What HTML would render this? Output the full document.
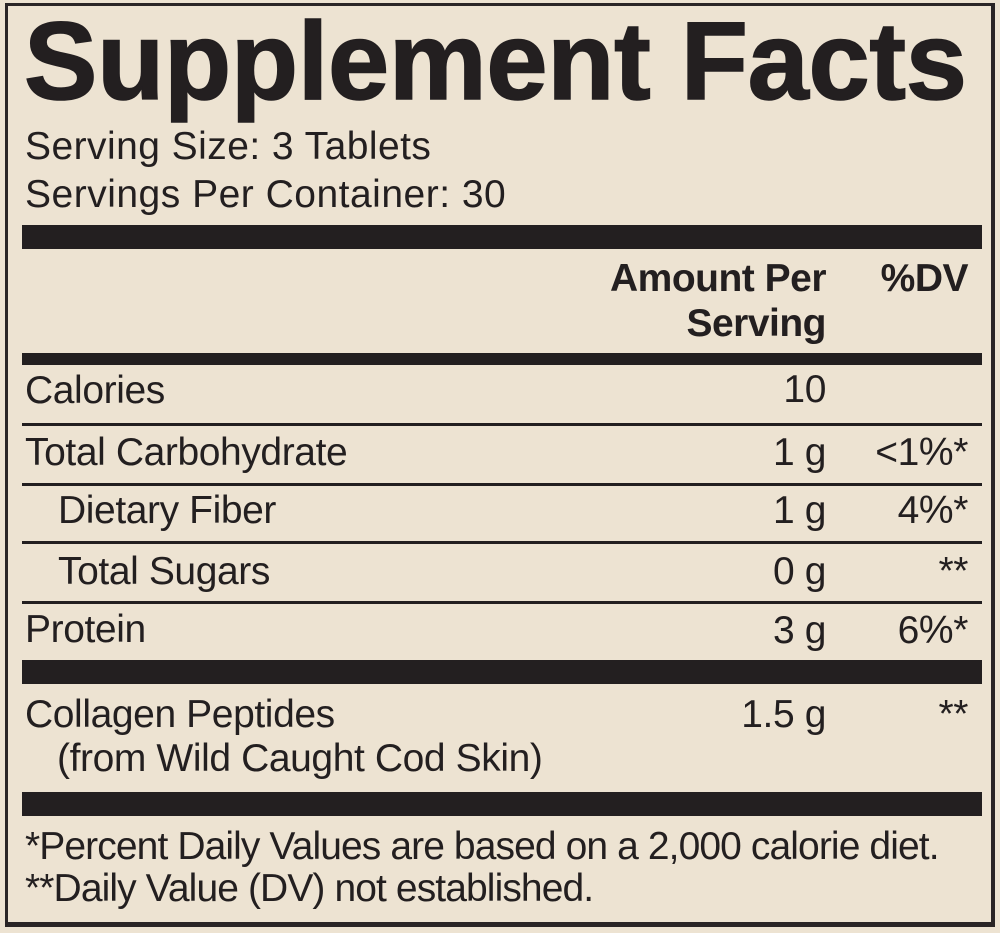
<!DOCTYPE html>
<html>
<head>
<meta charset="utf-8">
<style>
  html,body{margin:0;padding:0;}
  body{width:1000px;height:933px;background:#ede3d2;position:relative;overflow:hidden;
       font-family:"Liberation Sans",Arial,sans-serif;color:#231f20;}
  .frame{position:absolute;left:5px;top:3px;width:983px;height:916px;
         border-top:3px solid #2a2526;border-left:3px solid #2a2526;
         border-right:4px solid #2a2526;border-bottom:5px solid #2a2526;}
  .bar{position:absolute;left:22px;width:960px;background:#231f20;}
  .t{position:absolute;white-space:nowrap;font-size:39px;line-height:39px;letter-spacing:-0.4px;}
  .fn{letter-spacing:-0.9px;}
  .b{font-weight:bold;letter-spacing:-0.5px;}
  .title{position:absolute;left:24px;top:7px;font-size:110px;line-height:110px;font-weight:bold;
         white-space:nowrap;-webkit-text-stroke:1.5px #231f20;letter-spacing:-0.3px;}
</style>
</head>
<body>
<div class="frame"></div>

<div class="title">Supplement Facts</div>

<div class="t" style="left:25px;top:127px;letter-spacing:0.45px;">Serving Size: 3 Tablets</div>
<div class="t" style="left:25px;top:175px;letter-spacing:0.5px;">Servings Per Container: 30</div>

<div class="bar" style="top:225px;height:24px;"></div>

<div class="t b" style="right:174px;top:259px;">Amount Per</div>
<div class="t b" style="right:174px;top:304px;">Serving</div>
<div class="t b" style="right:32px;top:259px;">%DV</div>

<div class="bar" style="top:353px;height:12px;"></div>

<div class="t" style="left:25px;top:371px;">Calories</div>
<div class="t" style="right:174px;top:370px;">10</div>

<div class="bar" style="top:423px;height:3px;"></div>

<div class="t" style="left:25px;top:433px;">Total Carbohydrate</div>
<div class="t" style="right:174px;top:433px;">1 g</div>
<div class="t" style="right:32px;top:433px;">&lt;1%*</div>

<div class="bar" style="top:483px;height:3px;"></div>

<div class="t" style="left:58px;top:491px;">Dietary Fiber</div>
<div class="t" style="right:174px;top:491px;">1 g</div>
<div class="t" style="right:32px;top:491px;">4%*</div>

<div class="bar" style="top:541px;height:3px;"></div>

<div class="t" style="left:58px;top:552px;">Total Sugars</div>
<div class="t" style="right:174px;top:552px;">0 g</div>
<div class="t" style="right:32px;top:552px;">**</div>

<div class="bar" style="top:601px;height:3px;"></div>

<div class="t" style="left:25px;top:610px;">Protein</div>
<div class="t" style="right:174px;top:611px;">3 g</div>
<div class="t" style="right:32px;top:611px;">6%*</div>

<div class="bar" style="top:660px;height:24px;"></div>

<div class="t" style="left:25px;top:695px;">Collagen Peptides</div>
<div class="t" style="left:57px;top:739px;">(from Wild Caught Cod Skin)</div>
<div class="t" style="right:174px;top:695px;">1.5 g</div>
<div class="t" style="right:32px;top:695px;">**</div>

<div class="bar" style="top:792px;height:24px;"></div>

<div class="t fn" style="left:25px;top:827px;">*Percent Daily Values are based on a 2,000 calorie diet.</div>
<div class="t fn" style="left:25px;top:869px;">**Daily Value (DV) not established.</div>
</body>
</html>
